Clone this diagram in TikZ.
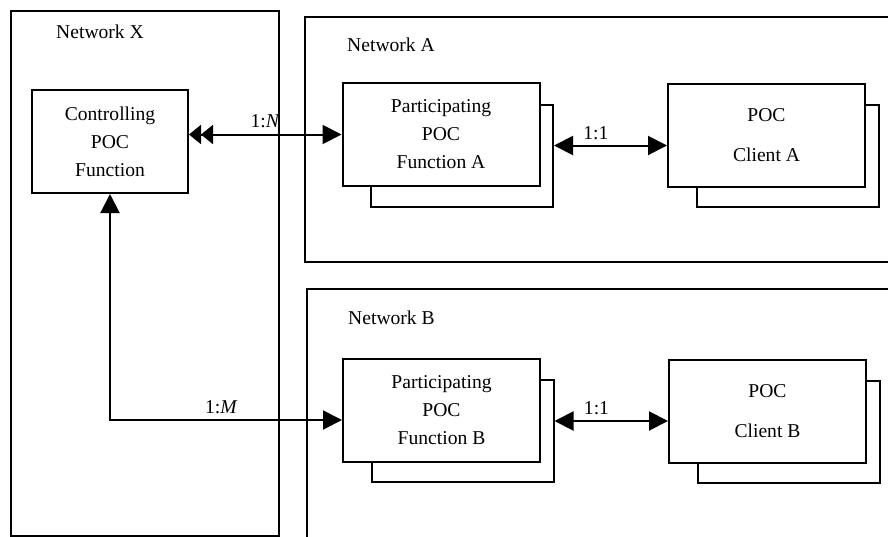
\documentclass[tikz,border=0pt]{standalone}
\usepackage{fontspec}
\setmainfont{Liberation Serif}
\usetikzlibrary{arrows.meta,calc,positioning}

\begin{document}
\begin{tikzpicture}[
    x=1pt, y=-1pt,
    every node/.style={font=\fontsize{19.6}{28}\selectfont},
    netframe/.style={draw, line width=2pt, inner sep=0pt, anchor=north west},
    netlabel/.style={anchor=west, inner sep=0pt},
    funcbox/.style={draw, fill=white, line width=2pt, align=center,
                    minimum width=197pt, minimum height=103pt, inner sep=2pt},
    backbox/.style={draw, fill=white, line width=2pt,
                    minimum width=182pt, minimum height=102pt, inner sep=0pt},
    link/.style={line width=2pt},
    head/.tip={Triangle[length=19pt, width=19pt]},
    halfhead/.tip={Triangle[length=12pt, width=19pt]},
    ratio/.style={inner sep=1pt},
]

\useasboundingbox (0,0) rectangle (888,536);
\clip (0,0) rectangle (888,536);

% Network frames (A and B run off the page)
\node[netframe, minimum width=268pt, minimum height=525pt] (netX) at (10,10) {};
\node[netframe, minimum width=620pt, minimum height=245pt] (netA) at (304,16) {};
\node[netframe, minimum width=620pt, minimum height=300pt] (netB) at (306,288) {};

\node[netlabel] (netXlbl) at (56,32) {Network X};
\node[netlabel] (netAlbl) at (347,45) {Network A};
\node[netlabel] (netBlbl) at (348,318) {Network B};

% Controlling function
\node[funcbox, minimum width=156pt] (ctrl) at (110,141.5)
    {Controlling\\POC\\Function};

% Network A boxes
\coordinate (pfaC) at (441,134.5);
\coordinate (clAC) at (766.5,135);
\node[backbox] (pfaS) at ($(pfaC)+(21,21)$) {};
\node[funcbox] (pfa) at (pfaC) {Participating\\POC\\Function A};
\node[backbox] (clAS) at ($(clAC)+(21,21)$) {};
\node[funcbox] (clA) at (clAC) {POC\\[12pt]Client A};

% Network B boxes
\coordinate (pfbC) at (441.5,410);
\coordinate (clBC) at (767.5,411);
\node[backbox] (pfbS) at ($(pfbC)+(21,21)$) {};
\node[funcbox] (pfb) at (pfbC) {Participating\\POC\\Function B};
\node[backbox] (clBS) at ($(clBC)+(21,21)$) {};
\node[funcbox] (clB) at (clBC) {POC\\[12pt]Client B};

% Links
\draw[link, {halfhead[]halfhead[]}-head] (ctrl.east |- pfa.west) -- (pfa.west)
    node[midway, above=5pt, ratio] (ratioN) {1:\textit{N}};

\coordinate (pfbIn) at ($(pfb.west)+(0,10)$);
\draw[link, head-head] (ctrl.south) |- (pfbIn)
    node[pos=0.74, above=4pt, ratio] (ratioM) {1:\textit{M}};

\coordinate (pfaOut) at ($(pfaS.east)+(0,-10)$);
\draw[link, head-head] (pfaOut) -- (clA.west |- pfaOut)
    node[pos=0.37, above=4pt, ratio] (ratioA) {1:1};

\coordinate (pfbOut) at ($(pfbS.east)+(0,-10)$);
\draw[link, head-head] (pfbOut) -- (clB.west |- pfbOut)
    node[pos=0.37, above=4pt, ratio] (ratioB) {1:1};

\end{tikzpicture}
\end{document}
